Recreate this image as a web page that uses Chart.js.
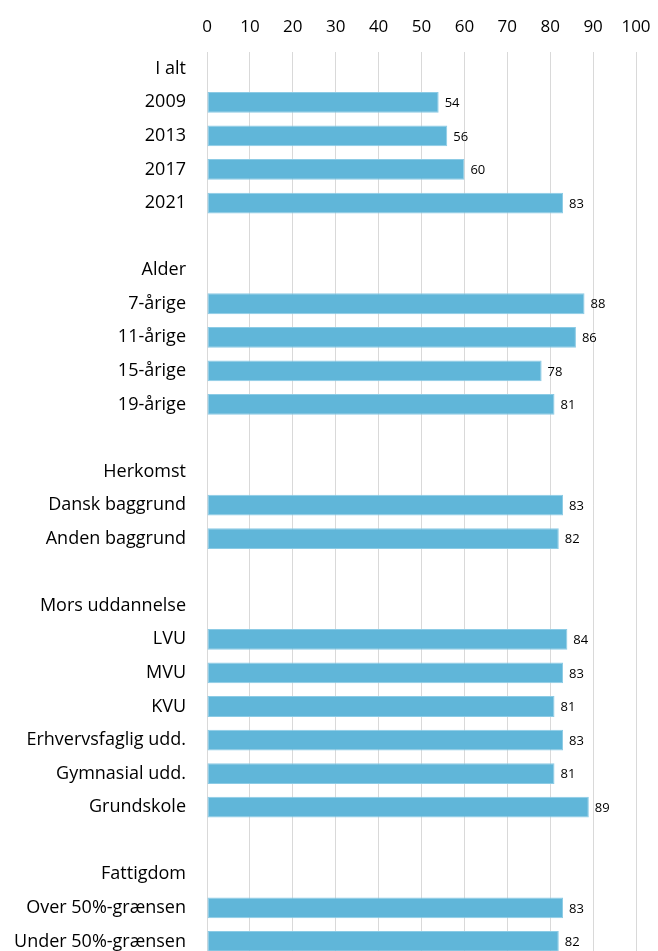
<!DOCTYPE html>
<html>
<head>
<meta charset="utf-8">
<script src="https://cdn.jsdelivr.net/npm/chart.js@4"></script>
<style>
  html, body { margin:0; padding:0; background:#fff; overflow:hidden; height:951px; }
  #wrap { width:658px; height:990px; position:relative; }
</style>
</head>
<body>
<div id="wrap"><canvas id="chart"></canvas></div>
<script>
// rækker: overskrifter og tomme linjer har ingen værdi
const categories = [
  'I alt', '2009', '2013', '2017', '2021', '',
  'Alder', '7-årige', '11-årige', '15-årige', '19-årige', '',
  'Herkomst', 'Dansk baggrund', 'Anden baggrund', '',
  'Mors uddannelse', 'LVU', 'MVU', 'KVU', 'Erhvervsfaglig udd.', 'Gymnasial udd.', 'Grundskole', '',
  'Fattigdom', 'Over 50%-grænsen', 'Under 50%-grænsen'
];
const values = [
  null, 54, 56, 60, 83, null,
  null, 88, 86, 78, 81, null,
  null, 83, 82, null,
  null, 84, 83, 81, 83, 81, 89, null,
  null, 83, 82
];
const xTicks = [0, 10, 20, 30, 40, 50, 60, 70, 80, 90, 100];

const FONT = '"Open Sans", sans-serif';

// værdier ved enden af søjlerne
const barLabels = {
  id: 'barLabels',
  afterDatasetsDraw(chart){
    const {ctx} = chart;
    const meta = chart.getDatasetMeta(0);
    ctx.save();
    ctx.font = '13px ' + FONT;
    ctx.fillStyle = '#000';
    ctx.textBaseline = 'middle';
    ctx.textAlign = 'left';
    meta.data.forEach((bar, i) => {
      const v = values[i];
      if (v == null) return;
      ctx.fillText(String(v), bar.x + 6, bar.y + 1);
    });
    ctx.restore();
  }
};

new Chart(document.getElementById('chart'), {
  type: 'bar',
  data: {
    labels: categories,
    datasets: [{
      data: values,
      backgroundColor: '#60b6d9',
      borderColor: '#8ccbe5',
      borderWidth: 1,
      borderSkipped: false,
      categoryPercentage: 1,
      barPercentage: 0.62
    }]
  },
  options: {
    indexAxis: 'y',
    responsive: true,
    maintainAspectRatio: false,
    animation: false,
    layout: { padding: { left: 0, right: 22, top: 2, bottom: 0 } },
    plugins: { legend: { display: false }, tooltip: { enabled: false } },
    scales: {
      x: {
        position: 'top',
        min: 0, max: 100,
        afterBuildTicks: s => { s.ticks = xTicks.map(v => ({ value: v })); },
        afterFit: s => { s.height = 50; s.paddingLeft = 0; s.paddingRight = 0; },
        grid: { color: '#d9d9d9', lineWidth: 1, drawTicks: false },
        border: { display: false },
        ticks: { color: '#000', font: { family: FONT, size: 17 }, padding: 15 }
      },
      y: {
        afterFit: s => { s.width = 207; },
        grid: { display: false, drawTicks: false },
        border: { display: true, color: '#d9d9d9' },
        ticks: { color: '#000', font: { family: FONT, size: 18 }, padding: 21, autoSkip: false }
      }
    }
  },
  plugins: [barLabels]
});
</script>
</body>
</html>
